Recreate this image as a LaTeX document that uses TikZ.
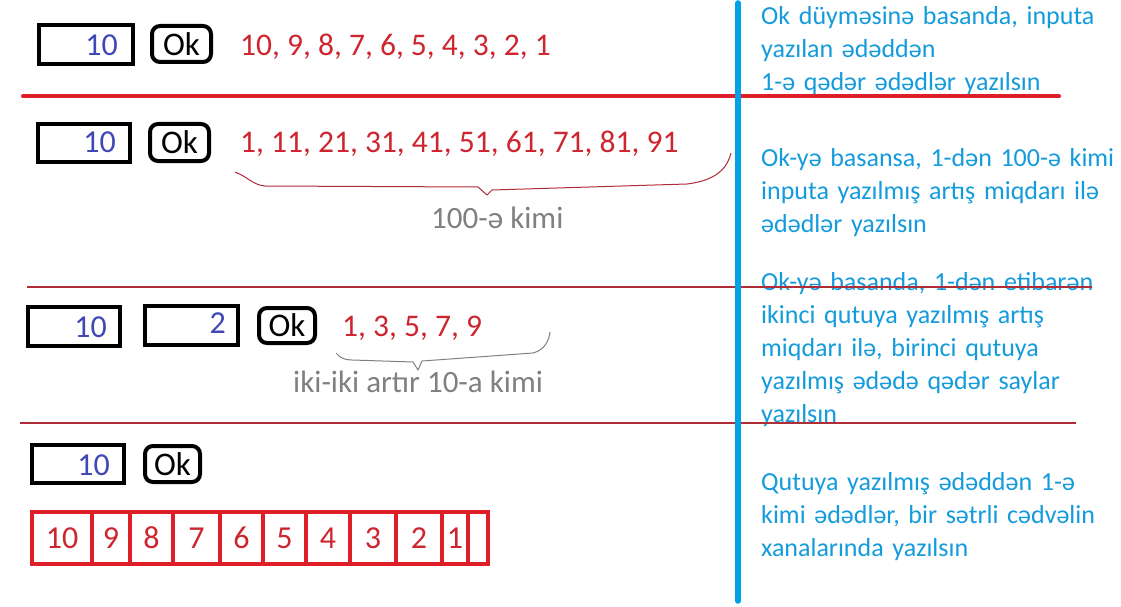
\documentclass[tikz,border=0pt]{standalone}
\usepackage{fontspec}
\setmainfont{Carlito}
\newfontfamily\descfont{Carlito}[WordSpace=0.9]
\definecolor{numred}{RGB}{205,38,48}
\definecolor{linered}{RGB}{222,30,40}
\definecolor{thinred}{RGB}{175,45,55}
\definecolor{numblue}{RGB}{63,72,180}
\definecolor{graytxt}{RGB}{128,128,128}
\definecolor{turq}{RGB}{0,162,232}
\definecolor{textblue}{RGB}{20,155,220}
\begin{document}
\begin{tikzpicture}[x=1pt,y=-1pt,
  inbox/.style={draw=black, line width=4pt, inner sep=0pt},
  okbtn/.style={draw=black, line width=4pt, rounded corners=8pt, inner sep=0pt,
    font=\fontsize{33}{38}\selectfont, text=black},
  bluenum/.style={inner sep=0pt, font=\fontsize{32}{37}\selectfont, text=numblue},
  rednum/.style={inner sep=0pt, font=\fontsize{31.5}{37}\selectfont, text=numred},
  graylbl/.style={inner sep=0pt, font=\fontsize{31}{37}\selectfont, text=graytxt},
  desc/.style={inner sep=0pt, text width=380pt, align=left,
    font=\descfont\fontsize{26}{33}\selectfont, text=textblue},
  cell/.style={draw=linered, line width=4pt, inner sep=0pt, minimum height=52pt,
    font=\fontsize{32}{37}\selectfont, text=numred},
  thickred/.style={draw=linered, line width=4pt, line cap=round},
  thinline/.style={draw=thinred, line width=1.3pt},
  brace/.style={line width=1pt, line join=round}
]
\useasboundingbox[fill=white] (0,0) rectangle (1121,607);

% ---- Row 1
\node[inbox, minimum width=94pt, minimum height=39pt] (in1) at (86,44.5) {};
\node[bluenum, anchor=base east] (v1) at (118,55.5) {10};
\node[okbtn, minimum width=59pt, minimum height=36pt] (ok1) at (181.5,44) {Ok};
\node[rednum, anchor=base west] (r1) at (240,55.5) {10, 9, 8, 7, 6, 5, 4, 3, 2, 1};

% ---- Row 2
\node[inbox, minimum width=92pt, minimum height=38pt] (in2) at (84,143) {};
\node[bluenum, anchor=base east] (v2) at (116,152) {10};
\node[okbtn, minimum width=59pt, minimum height=37pt] (ok2) at (179.5,142.5) {Ok};
\node[rednum, anchor=base west] (r2) at (240,152) {1, 11, 21, 31, 41, 51, 61, 71, 81, 91};
\draw[brace, draw=thinred] (235,172) .. controls (248,177) and (253,185) .. (265,186)
  -- (478,187) -- (487,195) -- (492,190) -- (687,184)
  .. controls (720,180) and (728,165) .. (731,153);
\node[graylbl, anchor=base west] (g1) at (431,228) {100-ə kimi};

% ---- Row 3
\node[inbox, minimum width=92pt, minimum height=39pt] (in3a) at (74,326.5) {};
\node[bluenum, anchor=base east] (v3a) at (107,337) {10};
\node[inbox, minimum width=93pt, minimum height=39pt] (in3b) at (191.5,325.5) {};
\node[bluenum, anchor=base east] (v3b) at (226,333) {2};
\node[okbtn, minimum width=56pt, minimum height=35pt] (ok3) at (287,325.5) {Ok};
\node[rednum, anchor=base west] (r3) at (342,336) {1, 3, 5, 7, 9};
\draw[brace, draw=graytxt] (336,353) .. controls (340,358) and (345,360) .. (352,360)
  -- (413,362) -- (418,370) -- (422,361) -- (533,353)
  .. controls (545,350) and (549,340) .. (550,332);
\node[graylbl, anchor=base west] (g2) at (293,392) {iki-iki artır 10-a kimi};

% ---- Row 4
\node[inbox, minimum width=92pt, minimum height=38pt] (in4) at (78,464) {};
\node[bluenum, anchor=base east] (v4) at (110,475) {10};
\node[okbtn, minimum width=55pt, minimum height=36pt] (ok4) at (172.5,464) {Ok};
\foreach \l/\r/\t [count=\i] in {32/92/10, 92/130/9, 130/173/8, 173/220/7, 220/263/6,
    263/306/5, 306/350/4, 350/396/3, 396/442/2, 442/468/1, 468/488/{}} {
  \pgfmathsetmacro\cw{\r-\l}
  \pgfmathsetmacro\cx{(\r+\l)/2}
  \node[cell, minimum width=\cw pt] (c\i) at (\cx,538) {\t};
}

% ---- Descriptions
\node[desc, anchor=base west] (d1) at (761,25)
  {Ok düyməsinə basanda, inputa\\yazılan ədəddən\\1-ə qədər ədədlər yazılsın};
\node[desc, anchor=base west] (d2) at (761,166)
  {Ok-yə basansa, 1-dən 100-ə kimi\\inputa yazılmış artış miqdarı ilə\\ədədlər yazılsın};
\node[desc, anchor=base west] (d3) at (761,290)
  {Ok-yə basanda, 1-dən etibarən\\ikinci qutuya yazılmış artış\\miqdarı ilə, birinci qutuya\\yazılmış ədədə qədər saylar\\yazılsın};
\node[desc, anchor=base west] (d4) at (761,490)
  {Qutuya yazılmış ədəddən 1-ə\\kimi ədədlər, bir sətrli cədvəlin\\xanalarında yazılsın};

% ---- Separators
\coordinate (s1a) at (23,96.5);  \coordinate (s1b) at (1059,96.5);
\coordinate (s2a) at (27,287);   \coordinate (s2b) at (1092,287);
\coordinate (s3a) at (20,423);   \coordinate (s3b) at (1076,423);
\draw[thickred] (s1a) -- (s1b);
\draw[thinline] (s2a) -- (s2b);
\draw[thinline] (s3a) -- (s3b);
\coordinate (vt) at (738,3); \coordinate (vb) at (738,601);
\draw[draw=turq, line width=5.5pt, line cap=round] (vt) -- (vb);
\end{tikzpicture}
\end{document}
